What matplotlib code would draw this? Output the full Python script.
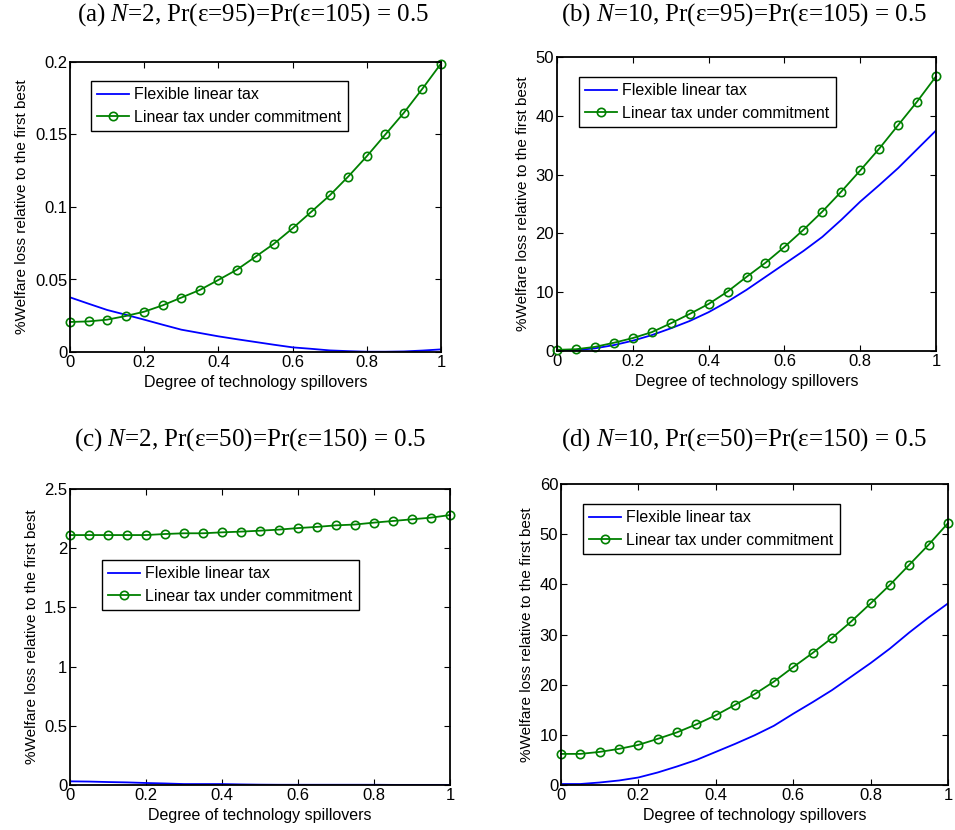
import numpy as np
import matplotlib
matplotlib.use("Agg")
import matplotlib.pyplot as plt
from matplotlib.ticker import FuncFormatter

plt.rcParams['font.family'] = ['Liberation Sans', 'DejaVu Sans']
plt.rcParams['mathtext.fontset'] = 'custom'
plt.rcParams['mathtext.it'] = 'Liberation Serif:italic'
plt.rcParams['mathtext.rm'] = 'Liberation Serif'

# spillover grid
spill = [0.0, 0.05, 0.1, 0.15, 0.2, 0.25, 0.3, 0.35, 0.4, 0.45, 0.5,
         0.55, 0.6, 0.65, 0.7, 0.75, 0.8, 0.85, 0.9, 0.95, 1.0]

# (a) N=2, eps 95/105
flex_a = [0.0377, 0.0333, 0.029, 0.0257, 0.0223, 0.0188, 0.0154, 0.0131, 0.0108, 0.0088,
          0.0069, 0.005, 0.0032, 0.0022, 0.0011, 0.0006, 0.0002, 0.0002, 0.0004, 0.001, 0.0018]
comm_a = [0.0207, 0.0211, 0.0223, 0.0248, 0.0278, 0.0322, 0.0375, 0.0428, 0.0497, 0.0568,
          0.0657, 0.0747, 0.0853, 0.0966, 0.108, 0.121, 0.135, 0.150, 0.165, 0.1816, 0.1989]

# (b) N=10, eps 95/105
flex_b = [0.05, 0.15, 0.45, 1.0, 1.75, 2.7, 3.85, 5.1, 6.6, 8.4,
          10.4, 12.6, 14.8, 17.0, 19.4, 22.3, 25.4, 28.2, 31.1, 34.3, 37.5]
comm_b = [0.2, 0.3, 0.7, 1.4, 2.2, 3.2, 4.7, 6.3, 8.0, 10.1,
          12.6, 15.0, 17.7, 20.6, 23.7, 27.1, 30.7, 34.4, 38.4, 42.4, 46.7]

# (c) N=2, eps 50/150
flex_c = [0.031, 0.029, 0.025, 0.022, 0.017, 0.013, 0.008, 0.008, 0.008, 0.005,
          0.003, 0.002, 0.002, 0.002, 0.002, 0.002, 0.002, 0.001, 0.001, 0.001, 0.001]
comm_c = [2.111, 2.111, 2.111, 2.111, 2.111, 2.12, 2.126, 2.126, 2.134, 2.14,
          2.148, 2.157, 2.17, 2.18, 2.193, 2.20, 2.216, 2.23, 2.244, 2.258, 2.28]

# (d) N=10, eps 50/150
flex_d = [0.2, 0.2, 0.5, 0.9, 1.5, 2.5, 3.7, 5.0, 6.6, 8.2,
          9.9, 11.8, 14.2, 16.5, 18.9, 21.6, 24.3, 27.2, 30.4, 33.4, 36.2]
comm_d = [6.2, 6.2, 6.6, 7.2, 8.0, 9.2, 10.5, 12.1, 13.9, 16.0,
          18.1, 20.6, 23.5, 26.3, 29.3, 32.6, 36.2, 39.9, 43.9, 47.9, 52.2]

titles = [r"(a) $\mathit{N}$=2, Pr(ε=95)=Pr(ε=105) = 0.5",
          r"(b) $\mathit{N}$=10, Pr(ε=95)=Pr(ε=105) = 0.5",
          r"(c) $\mathit{N}$=2, Pr(ε=50)=Pr(ε=150) = 0.5",
          r"(d) $\mathit{N}$=10, Pr(ε=50)=Pr(ε=150) = 0.5"]
ylims = [(0, 0.2), (0, 50), (0, 2.5), (0, 60)]
yticks = [[0, 0.05, 0.1, 0.15, 0.2], [0, 10, 20, 30, 40, 50],
          [0, 0.5, 1, 1.5, 2, 2.5], [0, 10, 20, 30, 40, 50, 60]]

W, H = 955, 830
fig = plt.figure(figsize=(W / 100, H / 100), dpi=100)

# axes boxes in pixels: left, top, right, bottom
boxes = [(70, 62, 441, 352), (557, 57, 936, 351),
         (70, 489, 450, 785), (561, 484, 948, 785)]
legend_pos = [(91, 81), (579, 77), (102, 560), (583, 504)]
title_pos = [(253, 15), (744, 15), (250, 440), (744, 440)]

data = [(flex_a, comm_a), (flex_b, comm_b), (flex_c, comm_c), (flex_d, comm_d)]
fmt = FuncFormatter(lambda v, p: '%g' % v)

for i in range(4):
    l, t, r, b = boxes[i]
    ax = fig.add_axes([l / W, (H - b) / H, (r - l) / W, (b - t) / H])
    flex, comm = data[i]
    ax.plot(spill, flex, color='#0000ff', lw=1.3, label='Flexible linear tax')
    ax.plot(spill, comm, color='#008000', lw=1.3, marker='o', ms=6,
            mfc='none', mew=1.2, label='Linear tax under commitment', clip_on=False)
    ax.set_xlim(0, 1)
    ax.set_ylim(*ylims[i])
    ax.set_xticks([0, 0.2, 0.4, 0.6, 0.8, 1])
    ax.set_yticks(yticks[i])
    ax.xaxis.set_major_formatter(fmt)
    ax.yaxis.set_major_formatter(fmt)
    ax.tick_params(direction='in', top=True, right=True, labelsize=12, length=4,
                   width=0.8, pad=2)
    for s in ax.spines.values():
        s.set_linewidth(1.3)
    ax.set_xlabel('Degree of technology spillovers', fontsize=11.5, labelpad=4)
    ax.set_ylabel('%Welfare loss relative to the first best', fontsize=11, labelpad=4)
    lx, ly = legend_pos[i]
    leg = ax.legend(loc='upper left', bbox_to_anchor=(lx / W, 1 - ly / H),
                    bbox_transform=fig.transFigure, fancybox=False, framealpha=1,
                    edgecolor='black', fontsize=11.5, handlelength=2.0,
                    borderpad=0.4, labelspacing=0.45, handletextpad=0.3,
                    borderaxespad=0)
    leg.get_frame().set_linewidth(1.0)
    tx, ty = title_pos[i]
    fig.text(tx / W, 1 - ty / H, titles[i], ha='center', va='center',
             fontsize=18, family='Liberation Serif')

fig.savefig('out.png', dpi=100)
